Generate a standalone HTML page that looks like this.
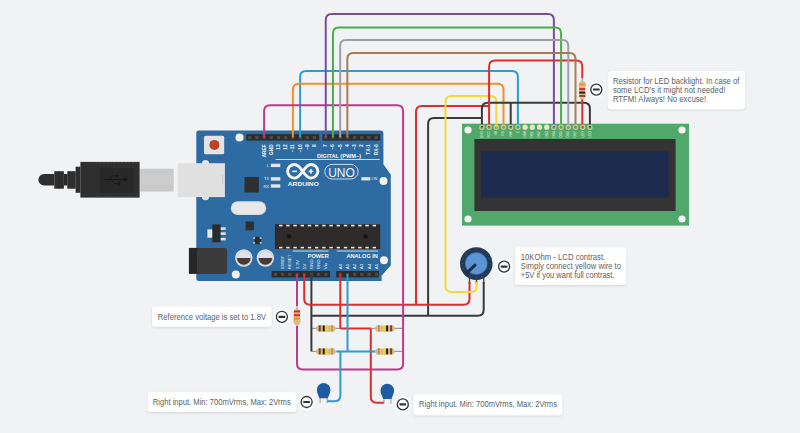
<!DOCTYPE html>
<html><head><meta charset="utf-8"><style>
html,body{margin:0;padding:0;background:#f1f2f4;width:800px;height:433px;overflow:hidden}
svg{display:block;font-family:"Liberation Sans", sans-serif}
</style></head><body>
<svg width="800" height="433" viewBox="0 0 800 433">
<defs><filter id="sh" x="-10%" y="-30%" width="120%" height="160%"><feDropShadow dx="0" dy="1" stdDeviation="1.2" flood-color="#000" flood-opacity="0.12"/></filter></defs>
<rect width="800" height="433" fill="#f1f2f4"/>
<rect x="139.5" y="168.7" width="34.1" height="22.9" fill="#c9c9c9"/>
<rect x="139.5" y="175" width="34.1" height="10" fill="#cdcdcd"/>
<path d="M54.3,174 H44.15 A5.75,5.75 0 0 0 44.15,185.5 H54.3 Z" fill="#2e2e2e"/>
<rect x="54.3" y="171.2" width="9.6" height="17.5" fill="#2e2e2e"/>
<rect x="58.6" y="171.2" width="0.9" height="17.5" fill="#242424"/>
<rect x="63.9" y="174" width="3.5" height="11.5" fill="#2a2a2a"/>
<rect x="67.3" y="171.2" width="8.4" height="17.5" fill="#2e2e2e"/>
<rect x="75.6" y="166.7" width="4.9" height="26.1" fill="#2e2e2e"/>
<rect x="80.4" y="161.9" width="59.2" height="35.7" fill="#2f2f2f"/>
<rect x="99.6" y="168" width="33.7" height="24.8" fill="#282828"/>
<rect x="96.0" y="162.2" width="1.6" height="1.3" fill="#454545"/>
<rect x="96.0" y="196" width="1.6" height="1.3" fill="#454545"/>
<rect x="99.6" y="162.2" width="1.6" height="1.3" fill="#454545"/>
<rect x="99.6" y="196" width="1.6" height="1.3" fill="#454545"/>
<rect x="103.2" y="162.2" width="1.6" height="1.3" fill="#454545"/>
<rect x="103.2" y="196" width="1.6" height="1.3" fill="#454545"/>
<rect x="106.8" y="162.2" width="1.6" height="1.3" fill="#454545"/>
<rect x="106.8" y="196" width="1.6" height="1.3" fill="#454545"/>
<rect x="110.4" y="162.2" width="1.6" height="1.3" fill="#454545"/>
<rect x="110.4" y="196" width="1.6" height="1.3" fill="#454545"/>
<rect x="114.0" y="162.2" width="1.6" height="1.3" fill="#454545"/>
<rect x="114.0" y="196" width="1.6" height="1.3" fill="#454545"/>
<rect x="117.6" y="162.2" width="1.6" height="1.3" fill="#454545"/>
<rect x="117.6" y="196" width="1.6" height="1.3" fill="#454545"/>
<rect x="121.2" y="162.2" width="1.6" height="1.3" fill="#454545"/>
<rect x="121.2" y="196" width="1.6" height="1.3" fill="#454545"/>
<rect x="124.8" y="162.2" width="1.6" height="1.3" fill="#454545"/>
<rect x="124.8" y="196" width="1.6" height="1.3" fill="#454545"/>
<rect x="128.4" y="162.2" width="1.6" height="1.3" fill="#454545"/>
<rect x="128.4" y="196" width="1.6" height="1.3" fill="#454545"/>
<rect x="132.0" y="162.2" width="1.6" height="1.3" fill="#454545"/>
<rect x="132.0" y="196" width="1.6" height="1.3" fill="#454545"/>
<rect x="135.6" y="162.2" width="1.6" height="1.3" fill="#454545"/>
<rect x="135.6" y="196" width="1.6" height="1.3" fill="#454545"/>
<g stroke="#181818" stroke-width="1" fill="none"><line x1="104" y1="179.6" x2="125" y2="179.6"/><polyline points="109.5,179.6 112.5,175.8 116.5,175.8"/><polyline points="111.5,179.6 114.5,183.4 118.5,183.4"/></g>
<path d="M124.5,177.2 L128,179.6 L124.5,182 Z" fill="#181818"/><rect x="116" y="174.6" width="2.4" height="2.4" fill="#181818"/><circle cx="119.2" cy="183.4" r="1.3" fill="#181818"/>
<path d="M198,130.6 H380.5 Q383.4,130.6 383.4,133.5 V164.3 L390.8,174.7 V265.3 L381.6,275.7 V281 H199 Q196.3,281 196.3,278.3 V133.3 Q196.3,130.6 199,130.6 Z" fill="#2d6ba2"/>
<rect x="246.3" y="134.2" width="73" height="6.4" fill="#2c2c2c"/>
<rect x="322.4" y="134.2" width="57.8" height="6.4" fill="#2c2c2c"/>
<rect x="271.6" y="271" width="58.4" height="6.4" fill="#2c2c2c"/>
<rect x="336.2" y="271" width="42.6" height="6.4" fill="#2c2c2c"/>
<rect x="248.1" y="136" width="3.2" height="3" fill="#4a4a4a"/>
<rect x="255.3" y="136" width="3.2" height="3" fill="#4a4a4a"/>
<rect x="262.5" y="136" width="3.2" height="3" fill="#4a4a4a"/>
<rect x="269.7" y="136" width="3.2" height="3" fill="#4a4a4a"/>
<rect x="276.9" y="136" width="3.2" height="3" fill="#4a4a4a"/>
<rect x="284.1" y="136" width="3.2" height="3" fill="#4a4a4a"/>
<rect x="291.3" y="136" width="3.2" height="3" fill="#4a4a4a"/>
<rect x="298.5" y="136" width="3.2" height="3" fill="#4a4a4a"/>
<rect x="305.7" y="136" width="3.2" height="3" fill="#4a4a4a"/>
<rect x="312.9" y="136" width="3.2" height="3" fill="#4a4a4a"/>
<rect x="324.1" y="136" width="3.2" height="3" fill="#4a4a4a"/>
<rect x="331.3" y="136" width="3.2" height="3" fill="#4a4a4a"/>
<rect x="338.5" y="136" width="3.2" height="3" fill="#4a4a4a"/>
<rect x="345.8" y="136" width="3.2" height="3" fill="#4a4a4a"/>
<rect x="352.9" y="136" width="3.2" height="3" fill="#4a4a4a"/>
<rect x="360.1" y="136" width="3.2" height="3" fill="#4a4a4a"/>
<rect x="367.3" y="136" width="3.2" height="3" fill="#4a4a4a"/>
<rect x="374.5" y="136" width="3.2" height="3" fill="#4a4a4a"/>
<rect x="273.8" y="272.8" width="3.2" height="3" fill="#4a4a4a"/>
<rect x="281.0" y="272.8" width="3.2" height="3" fill="#4a4a4a"/>
<rect x="288.2" y="272.8" width="3.2" height="3" fill="#4a4a4a"/>
<rect x="295.4" y="272.8" width="3.2" height="3" fill="#4a4a4a"/>
<rect x="302.6" y="272.8" width="3.2" height="3" fill="#4a4a4a"/>
<rect x="309.8" y="272.8" width="3.2" height="3" fill="#4a4a4a"/>
<rect x="317.0" y="272.8" width="3.2" height="3" fill="#4a4a4a"/>
<rect x="324.2" y="272.8" width="3.2" height="3" fill="#4a4a4a"/>
<rect x="338.7" y="272.8" width="3.2" height="3" fill="#4a4a4a"/>
<rect x="345.9" y="272.8" width="3.2" height="3" fill="#4a4a4a"/>
<rect x="353.1" y="272.8" width="3.2" height="3" fill="#4a4a4a"/>
<rect x="360.3" y="272.8" width="3.2" height="3" fill="#4a4a4a"/>
<rect x="367.5" y="272.8" width="3.2" height="3" fill="#4a4a4a"/>
<rect x="374.7" y="272.8" width="3.2" height="3" fill="#4a4a4a"/>
<circle cx="239.5" cy="137.5" r="4" fill="#f3f3f3"/>
<circle cx="383.5" cy="180.9" r="4" fill="#f3f3f3"/>
<circle cx="235.8" cy="274.6" r="4" fill="#f3f3f3"/>
<circle cx="384.0" cy="260.2" r="4" fill="#f3f3f3"/>
<rect x="204" y="135.7" width="20.2" height="18.5" rx="1.5" fill="#e4e4e4"/>
<circle cx="214.4" cy="144.9" r="5" fill="#bd4128"/>
<circle cx="205.5" cy="163.6" r="3.6" fill="#dde3ea"/><circle cx="205.5" cy="196.7" r="3.6" fill="#dde3ea"/>
<rect x="177.8" y="163.2" width="47.1" height="33.9" fill="#e0e0e0"/>
<rect x="222.3" y="175" width="0.8" height="9" fill="#c4c4c4"/>
<rect x="230.8" y="201.2" width="35.4" height="13.9" rx="6.95" fill="#d8dde2"/><rect x="232" y="202.4" width="33" height="11.5" rx="5.75" fill="#e8e8e8"/>
<rect x="244.5" y="177" width="14.3" height="15.5" fill="#2f2f2f"/>
<rect x="245.6" y="221.5" width="8.3" height="8.8" fill="#2f2f2f"/>
<rect x="212.3" y="224.4" width="8.4" height="17.9" fill="#2b2b2b"/>
<rect x="207.4" y="229.4" width="4.8" height="8.3" fill="#e8e8e8"/>
<rect x="220.7" y="227.3" width="5" height="2.6" fill="#e0e0e0"/>
<rect x="220.7" y="232.3" width="5" height="2.6" fill="#e0e0e0"/>
<rect x="220.7" y="237.8" width="5" height="2.6" fill="#e0e0e0"/>
<rect x="254.5" y="236.8" width="6.5" height="7.4" fill="#2b2b2b"/>
<rect x="253.3" y="237.3" width="1.8" height="1.4" fill="#e0e0e0"/>
<rect x="253.3" y="242.2" width="1.8" height="1.4" fill="#e0e0e0"/>
<rect x="259.7" y="237.3" width="1.8" height="1.4" fill="#e0e0e0"/>
<rect x="259.7" y="242.2" width="1.8" height="1.4" fill="#e0e0e0"/>
<rect x="274.9" y="224.2" width="105.3" height="24.8" fill="#2e2b2a"/>
<rect x="279.0" y="224.8" width="3.4" height="1.6" fill="#e8e8e8"/>
<rect x="279.0" y="246.8" width="3.4" height="1.6" fill="#e8e8e8"/>
<rect x="286.2" y="224.8" width="3.4" height="1.6" fill="#e8e8e8"/>
<rect x="286.2" y="246.8" width="3.4" height="1.6" fill="#e8e8e8"/>
<rect x="293.4" y="224.8" width="3.4" height="1.6" fill="#e8e8e8"/>
<rect x="293.4" y="246.8" width="3.4" height="1.6" fill="#e8e8e8"/>
<rect x="300.6" y="224.8" width="3.4" height="1.6" fill="#e8e8e8"/>
<rect x="300.6" y="246.8" width="3.4" height="1.6" fill="#e8e8e8"/>
<rect x="307.8" y="224.8" width="3.4" height="1.6" fill="#e8e8e8"/>
<rect x="307.8" y="246.8" width="3.4" height="1.6" fill="#e8e8e8"/>
<rect x="315.0" y="224.8" width="3.4" height="1.6" fill="#e8e8e8"/>
<rect x="315.0" y="246.8" width="3.4" height="1.6" fill="#e8e8e8"/>
<rect x="322.2" y="224.8" width="3.4" height="1.6" fill="#e8e8e8"/>
<rect x="322.2" y="246.8" width="3.4" height="1.6" fill="#e8e8e8"/>
<rect x="329.4" y="224.8" width="3.4" height="1.6" fill="#e8e8e8"/>
<rect x="329.4" y="246.8" width="3.4" height="1.6" fill="#e8e8e8"/>
<rect x="336.6" y="224.8" width="3.4" height="1.6" fill="#e8e8e8"/>
<rect x="336.6" y="246.8" width="3.4" height="1.6" fill="#e8e8e8"/>
<rect x="343.8" y="224.8" width="3.4" height="1.6" fill="#e8e8e8"/>
<rect x="343.8" y="246.8" width="3.4" height="1.6" fill="#e8e8e8"/>
<rect x="351.0" y="224.8" width="3.4" height="1.6" fill="#e8e8e8"/>
<rect x="351.0" y="246.8" width="3.4" height="1.6" fill="#e8e8e8"/>
<rect x="358.2" y="224.8" width="3.4" height="1.6" fill="#e8e8e8"/>
<rect x="358.2" y="246.8" width="3.4" height="1.6" fill="#e8e8e8"/>
<rect x="365.4" y="224.8" width="3.4" height="1.6" fill="#e8e8e8"/>
<rect x="365.4" y="246.8" width="3.4" height="1.6" fill="#e8e8e8"/>
<rect x="372.6" y="224.8" width="3.4" height="1.6" fill="#e8e8e8"/>
<rect x="372.6" y="246.8" width="3.4" height="1.6" fill="#e8e8e8"/>
<circle cx="289" cy="236.2" r="2.2" fill="#151515"/><circle cx="365.6" cy="236.2" r="2.2" fill="#151515"/>
<rect x="188.9" y="247.9" width="10" height="26" fill="#262626"/>
<rect x="197" y="247.9" width="30.1" height="26" rx="2" fill="#3a3a3a"/>
<circle cx="243.8" cy="258" r="8.7" fill="#dfe3e8"/>
<path d="M236.6,258 A7.2,7.2 0 0 0 251.0,258 Z" fill="#4a3a33"/>
<circle cx="243.8" cy="258" r="7.2" fill="none" stroke="#c8ccd2" stroke-width="0.8"/>
<circle cx="265.4" cy="258" r="8.7" fill="#dfe3e8"/>
<path d="M258.2,258 A7.2,7.2 0 0 0 272.6,258 Z" fill="#4a3a33"/>
<circle cx="265.4" cy="258" r="7.2" fill="none" stroke="#c8ccd2" stroke-width="0.8"/>
<rect x="270.8" y="163.7" width="9.5" height="3.4" fill="#e6e6e6"/>
<rect x="270.8" y="177.2" width="9.5" height="3.4" fill="#e6e6e6"/>
<rect x="270.8" y="184.3" width="9.5" height="3.4" fill="#e6e6e6"/>
<rect x="361.3" y="177.2" width="9" height="3.2" fill="#e6e6e6"/>
<rect x="275.7" y="159" width="104" height="0.9" fill="#dfe8f0"/>
<rect x="292.8" y="250.6" width="35.7" height="0.9" fill="#dfe8f0"/>
<rect x="336.8" y="250.6" width="41.2" height="0.9" fill="#dfe8f0"/>
<path d="M302.75,171.3 C299,166 296.6,164.5 294.5,164.5 C290.6,164.5 287.6,167.6 287.6,171.3 C287.6,175 290.6,178.1 294.5,178.1 C296.6,178.1 299,176.6 302.75,171.3 C306.5,166 308.9,164.5 311,164.5 C314.9,164.5 317.9,167.6 317.9,171.3 C317.9,175 314.9,178.1 311,178.1 C308.9,178.1 306.5,176.6 302.75,171.3 Z" fill="none" stroke="#f4f6f8" stroke-width="2.9"/>
<rect x="292.2" y="170.6" width="4.8" height="1.5" fill="#f4f6f8"/><rect x="308.6" y="170.6" width="4.8" height="1.5" fill="#f4f6f8"/><rect x="310.25" y="168.95" width="1.5" height="4.8" fill="#f4f6f8"/>
<text x="287.8" y="186.1" font-size="6.2" font-weight="bold" fill="#f4f6f8" textLength="31" lengthAdjust="spacingAndGlyphs">ARDUINO</text>
<rect x="324.8" y="164.4" width="33.4" height="14.6" rx="7.3" fill="none" stroke="#dfe8f0" stroke-width="0.9"/>
<text x="341.5" y="176.8" font-size="12" fill="#f4f6f8" text-anchor="middle" font-weight="normal">UNO</text>
<text x="339" y="157.7" font-size="5.6" font-weight="bold" fill="#f4f6f8" text-anchor="middle">DIGITAL (PWM~)</text>
<text x="318.3" y="257.8" font-size="5.6" font-weight="bold" fill="#f4f6f8" text-anchor="middle">POWER</text>
<text x="362.2" y="257.8" font-size="5.6" font-weight="bold" fill="#f4f6f8" text-anchor="middle">ANALOG IN</text>
<text x="269" y="166.8" font-size="4" fill="#f4f6f8" text-anchor="end">L</text>
<text x="269" y="180.4" font-size="4" fill="#f4f6f8" text-anchor="end">TX</text>
<text x="269" y="187.5" font-size="4" fill="#f4f6f8" text-anchor="end">RX</text>
<text x="371.5" y="180.4" font-size="4" fill="#f4f6f8">ON</text>
<text transform="translate(264.1,144.3) rotate(-90)" font-size="4.8" font-weight="bold" fill="#eef3f8" text-anchor="end" dominant-baseline="central">AREF</text>
<text transform="translate(271.3,144.3) rotate(-90)" font-size="4.8" font-weight="bold" fill="#eef3f8" text-anchor="end" dominant-baseline="central">GND</text>
<text transform="translate(278.5,144.3) rotate(-90)" font-size="4.8" font-weight="bold" fill="#eef3f8" text-anchor="end" dominant-baseline="central">13</text>
<text transform="translate(285.7,144.3) rotate(-90)" font-size="4.8" font-weight="bold" fill="#eef3f8" text-anchor="end" dominant-baseline="central">12</text>
<text transform="translate(292.9,144.3) rotate(-90)" font-size="4.8" font-weight="bold" fill="#eef3f8" text-anchor="end" dominant-baseline="central">~11</text>
<text transform="translate(300.1,144.3) rotate(-90)" font-size="4.8" font-weight="bold" fill="#eef3f8" text-anchor="end" dominant-baseline="central">~10</text>
<text transform="translate(307.3,144.3) rotate(-90)" font-size="4.8" font-weight="bold" fill="#eef3f8" text-anchor="end" dominant-baseline="central">~9</text>
<text transform="translate(314.5,144.3) rotate(-90)" font-size="4.8" font-weight="bold" fill="#eef3f8" text-anchor="end" dominant-baseline="central">8</text>
<text transform="translate(325.8,144.3) rotate(-90)" font-size="4.8" font-weight="bold" fill="#eef3f8" text-anchor="end" dominant-baseline="central">7</text>
<text transform="translate(332.9,144.3) rotate(-90)" font-size="4.8" font-weight="bold" fill="#eef3f8" text-anchor="end" dominant-baseline="central">~6</text>
<text transform="translate(340.1,144.3) rotate(-90)" font-size="4.8" font-weight="bold" fill="#eef3f8" text-anchor="end" dominant-baseline="central">~5</text>
<text transform="translate(347.4,144.3) rotate(-90)" font-size="4.8" font-weight="bold" fill="#eef3f8" text-anchor="end" dominant-baseline="central">4</text>
<text transform="translate(354.6,144.3) rotate(-90)" font-size="4.8" font-weight="bold" fill="#eef3f8" text-anchor="end" dominant-baseline="central">~3</text>
<text transform="translate(361.8,144.3) rotate(-90)" font-size="4.8" font-weight="bold" fill="#eef3f8" text-anchor="end" dominant-baseline="central">2</text>
<text transform="translate(368.9,144.3) rotate(-90)" font-size="4.8" font-weight="bold" fill="#eef3f8" text-anchor="end" dominant-baseline="central">TX-1</text>
<text transform="translate(376.1,144.3) rotate(-90)" font-size="4.8" font-weight="bold" fill="#eef3f8" text-anchor="end" dominant-baseline="central">RX-0</text>
<text transform="translate(282.6,269.2) rotate(-90)" font-size="4.4" fill="#eef3f8" text-anchor="start" dominant-baseline="central">IOREF</text>
<text transform="translate(289.8,269.2) rotate(-90)" font-size="4.4" fill="#eef3f8" text-anchor="start" dominant-baseline="central">RESET</text>
<text transform="translate(297.0,269.2) rotate(-90)" font-size="4.4" fill="#eef3f8" text-anchor="start" dominant-baseline="central">3.3V</text>
<text transform="translate(304.2,269.2) rotate(-90)" font-size="4.4" fill="#eef3f8" text-anchor="start" dominant-baseline="central">5V</text>
<text transform="translate(311.4,269.2) rotate(-90)" font-size="4.4" fill="#eef3f8" text-anchor="start" dominant-baseline="central">GND</text>
<text transform="translate(318.6,269.2) rotate(-90)" font-size="4.4" fill="#eef3f8" text-anchor="start" dominant-baseline="central">GND</text>
<text transform="translate(325.8,269.2) rotate(-90)" font-size="4.4" fill="#eef3f8" text-anchor="start" dominant-baseline="central">Vin</text>
<text transform="translate(340.3,269.2) rotate(-90)" font-size="4.4" fill="#eef3f8" text-anchor="start" dominant-baseline="central">A0</text>
<text transform="translate(347.5,269.2) rotate(-90)" font-size="4.4" fill="#eef3f8" text-anchor="start" dominant-baseline="central">A1</text>
<text transform="translate(354.7,269.2) rotate(-90)" font-size="4.4" fill="#eef3f8" text-anchor="start" dominant-baseline="central">A2</text>
<text transform="translate(361.9,269.2) rotate(-90)" font-size="4.4" fill="#eef3f8" text-anchor="start" dominant-baseline="central">A3</text>
<text transform="translate(369.1,269.2) rotate(-90)" font-size="4.4" fill="#eef3f8" text-anchor="start" dominant-baseline="central">A4</text>
<text transform="translate(376.3,269.2) rotate(-90)" font-size="4.4" fill="#eef3f8" text-anchor="start" dominant-baseline="central">A5</text>
<rect x="462" y="123.7" width="227" height="101.9" fill="#50a86a"/>
<circle cx="468.0" cy="130.0" r="3.6" fill="#f3f3f3"/>
<circle cx="682.0" cy="130.0" r="3.6" fill="#f3f3f3"/>
<circle cx="468.0" cy="219.0" r="3.6" fill="#f3f3f3"/>
<circle cx="682.0" cy="219.0" r="3.6" fill="#f3f3f3"/>
<rect x="474.4" y="139" width="201.2" height="72" fill="#333333"/>
<rect x="481" y="151.5" width="187.8" height="46" fill="#1c2b4e"/>
<text transform="translate(481.9,131.2) rotate(-90)" font-size="3.2" fill="#e8f2ea" text-anchor="end" dominant-baseline="middle">GND</text>
<text transform="translate(489.1,131.2) rotate(-90)" font-size="3.2" fill="#e8f2ea" text-anchor="end" dominant-baseline="middle">VCC</text>
<text transform="translate(496.3,131.2) rotate(-90)" font-size="3.2" fill="#e8f2ea" text-anchor="end" dominant-baseline="middle">V0</text>
<text transform="translate(503.5,131.2) rotate(-90)" font-size="3.2" fill="#e8f2ea" text-anchor="end" dominant-baseline="middle">RS</text>
<text transform="translate(510.7,131.2) rotate(-90)" font-size="3.2" fill="#e8f2ea" text-anchor="end" dominant-baseline="middle">RW</text>
<text transform="translate(517.9,131.2) rotate(-90)" font-size="3.2" fill="#e8f2ea" text-anchor="end" dominant-baseline="middle">E</text>
<circle cx="525.1" cy="127.2" r="2.6" fill="#ebe6c4"/>
<text transform="translate(525.1,131.2) rotate(-90)" font-size="3.2" fill="#e8f2ea" text-anchor="end" dominant-baseline="middle">DB0</text>
<circle cx="532.3" cy="127.2" r="2.6" fill="#ebe6c4"/>
<text transform="translate(532.3,131.2) rotate(-90)" font-size="3.2" fill="#e8f2ea" text-anchor="end" dominant-baseline="middle">DB1</text>
<circle cx="539.5" cy="127.2" r="2.6" fill="#ebe6c4"/>
<text transform="translate(539.5,131.2) rotate(-90)" font-size="3.2" fill="#e8f2ea" text-anchor="end" dominant-baseline="middle">DB2</text>
<circle cx="546.7" cy="127.2" r="2.6" fill="#ebe6c4"/>
<text transform="translate(546.7,131.2) rotate(-90)" font-size="3.2" fill="#e8f2ea" text-anchor="end" dominant-baseline="middle">DB3</text>
<text transform="translate(553.9,131.2) rotate(-90)" font-size="3.2" fill="#e8f2ea" text-anchor="end" dominant-baseline="middle">DB4</text>
<text transform="translate(561.1,131.2) rotate(-90)" font-size="3.2" fill="#e8f2ea" text-anchor="end" dominant-baseline="middle">DB5</text>
<text transform="translate(568.3,131.2) rotate(-90)" font-size="3.2" fill="#e8f2ea" text-anchor="end" dominant-baseline="middle">DB6</text>
<text transform="translate(575.5,131.2) rotate(-90)" font-size="3.2" fill="#e8f2ea" text-anchor="end" dominant-baseline="middle">DB7</text>
<text transform="translate(582.7,131.2) rotate(-90)" font-size="3.2" fill="#e8f2ea" text-anchor="end" dominant-baseline="middle">LED</text>
<text transform="translate(589.9,131.2) rotate(-90)" font-size="3.2" fill="#e8f2ea" text-anchor="end" dominant-baseline="middle">LED</text>
<rect x="468.7" y="275" width="1.6" height="9" fill="#555"/>
<rect x="475.7" y="275" width="1.6" height="9" fill="#555"/>
<rect x="482.9" y="275" width="1.6" height="9" fill="#555"/>
<circle cx="476.3" cy="263.6" r="16.3" fill="#223b55"/>
<circle cx="490.30" cy="263.60" r="0.45" fill="#6d86a0"/>
<circle cx="489.23" cy="268.96" r="0.45" fill="#6d86a0"/>
<circle cx="486.20" cy="273.50" r="0.45" fill="#6d86a0"/>
<circle cx="481.66" cy="276.53" r="0.45" fill="#6d86a0"/>
<circle cx="476.30" cy="277.60" r="0.45" fill="#6d86a0"/>
<circle cx="470.94" cy="276.53" r="0.45" fill="#6d86a0"/>
<circle cx="466.40" cy="273.50" r="0.45" fill="#6d86a0"/>
<circle cx="463.37" cy="268.96" r="0.45" fill="#6d86a0"/>
<circle cx="462.30" cy="263.60" r="0.45" fill="#6d86a0"/>
<circle cx="463.37" cy="258.24" r="0.45" fill="#6d86a0"/>
<circle cx="466.40" cy="253.70" r="0.45" fill="#6d86a0"/>
<circle cx="470.94" cy="250.67" r="0.45" fill="#6d86a0"/>
<circle cx="476.30" cy="249.60" r="0.45" fill="#6d86a0"/>
<circle cx="481.66" cy="250.67" r="0.45" fill="#6d86a0"/>
<circle cx="486.20" cy="253.70" r="0.45" fill="#6d86a0"/>
<circle cx="489.23" cy="258.24" r="0.45" fill="#6d86a0"/>
<circle cx="476.3" cy="263.6" r="11.3" fill="#3f6fa6"/>
<circle cx="476.3" cy="263.6" r="10.6" fill="#5c95d6"/>
<line x1="475" y1="265.2" x2="467" y2="272.8" stroke="#1c2f45" stroke-width="3" stroke-linecap="round"/>
<rect x="319.4" y="397.1" width="1.6" height="6" fill="#bdbdbd"/>
<rect x="326.4" y="397.1" width="1.6" height="6" fill="#bdbdbd"/>
<path d="M316.85,389.90 A6.80,6.80 0 0 1 330.45,389.90 C330.45,393.40 328.15,396.40 327.85,398.30 H319.45 C319.15,396.40 316.85,393.40 316.85,389.90 Z" fill="#1f5ba3"/>
<rect x="383.1" y="397.8" width="1.6" height="6" fill="#bdbdbd"/>
<rect x="390.1" y="397.8" width="1.6" height="6" fill="#bdbdbd"/>
<path d="M380.50,390.60 A6.80,6.80 0 0 1 394.10,390.60 C394.10,394.10 391.80,397.10 391.50,399.00 H383.10 C382.80,397.10 380.50,394.10 380.50,390.60 Z" fill="#1f5ba3"/>
<line x1="311.4" y1="328.4" x2="317.0" y2="328.4" stroke="#9a9a9a" stroke-width="1.2"/>
<line x1="336.0" y1="328.4" x2="340.4" y2="328.4" stroke="#9a9a9a" stroke-width="1.2"/>
<line x1="370.8" y1="328.4" x2="375.5" y2="328.4" stroke="#9a9a9a" stroke-width="1.2"/>
<line x1="394.0" y1="328.4" x2="403.0" y2="328.4" stroke="#9a9a9a" stroke-width="1.2"/>
<line x1="311.4" y1="351.4" x2="317.0" y2="351.4" stroke="#9a9a9a" stroke-width="1.2"/>
<line x1="336.0" y1="351.4" x2="340.4" y2="351.4" stroke="#9a9a9a" stroke-width="1.2"/>
<line x1="370.8" y1="351.4" x2="375.5" y2="351.4" stroke="#9a9a9a" stroke-width="1.2"/>
<line x1="394.0" y1="351.4" x2="403.0" y2="351.4" stroke="#9a9a9a" stroke-width="1.2"/>
<line x1="582.3" y1="76.0" x2="582.3" y2="81.0" stroke="#9a9a9a" stroke-width="1.2"/>
<line x1="297.0" y1="305.0" x2="297.0" y2="310.0" stroke="#9a9a9a" stroke-width="1.2"/>
<line x1="297.0" y1="324.0" x2="297.0" y2="327.0" stroke="#9a9a9a" stroke-width="1.2"/>
<path d="M300.10,137.30 L300.10,77.00 Q300.10,71.00 306.10,71.00 L511.90,71.00 Q517.90,71.00 517.90,77.00 L517.90,127.20" stroke="#2a9dd2" stroke-width="2.0" fill="none"/>
<path d="M292.90,137.30 L292.90,89.80 Q292.90,83.80 298.90,83.80 L497.50,83.80 Q503.50,83.80 503.50,89.80 L503.50,127.20" stroke="#ef922c" stroke-width="2.0" fill="none"/>
<path d="M416.00,304.70 L416.00,111.90 Q416.00,105.90 422.00,105.90 L489.10,105.90" stroke="#dc2d30" stroke-width="2.0" fill="none"/>
<path d="M481.90,118.10 L434.10,118.10 Q428.10,118.10 428.10,124.10 L428.10,315.80" stroke="#3a3a3a" stroke-width="2.0" fill="none"/>
<path d="M311.40,274.20 L311.40,351.40" stroke="#3a3a3a" stroke-width="2.0" fill="none"/>
<path d="M311.40,315.80 L477.70,315.80 Q483.70,315.80 483.70,309.80 L483.70,282.00" stroke="#3a3a3a" stroke-width="2.0" fill="none"/>
<path d="M304.20,274.20 L304.20,298.70 Q304.20,304.70 310.20,304.70 L463.50,304.70 Q469.50,304.70 469.50,298.70 L469.50,282.00" stroke="#dc2d30" stroke-width="2.0" fill="none"/>
<path d="M264.10,137.30 L264.10,111.20 Q264.10,105.20 270.10,105.20 L397.10,105.20 Q403.10,105.20 403.10,111.20 L403.10,363.60 Q403.10,369.60 397.10,369.60 L303.00,369.60 Q297.00,369.60 297.00,363.60 L297.00,326.00" stroke="#bb3a8a" stroke-width="2.0" fill="none"/>
<path d="M297.00,274.20 L297.00,306.00" stroke="#bb3a8a" stroke-width="2.0" fill="none"/>
<path d="M496.30,127.20 L496.30,102.00 Q496.30,96.00 490.30,96.00 L451.50,96.00 Q445.50,96.00 445.50,102.00 L445.50,285.90 Q445.50,291.90 451.50,291.90 L471.55,291.90 Q476.50,291.90 476.50,286.95 L476.50,282.00" stroke="#f4d83e" stroke-width="2.0" fill="none"/>
<path d="M481.90,127.20 L481.90,108.80 Q481.90,102.80 487.90,102.80 L583.90,102.80 Q589.90,102.80 589.90,108.80 L589.90,127.20" stroke="#3a3a3a" stroke-width="2.0" fill="none"/>
<path d="M510.70,127.20 L510.70,102.80" stroke="#3a3a3a" stroke-width="2.0" fill="none"/>
<path d="M489.10,127.20 L489.10,66.50 Q489.10,60.50 495.10,60.50 L576.30,60.50 Q582.30,60.50 582.30,66.50 L582.30,78.00" stroke="#dc2d30" stroke-width="2.0" fill="none"/>
<path d="M582.30,99.00 L582.30,127.20" stroke="#dc2d30" stroke-width="2.0" fill="none"/>
<path d="M325.75,137.30 L325.75,20.00 Q325.75,14.00 331.75,14.00 L547.90,14.00 Q553.90,14.00 553.90,20.00 L553.90,127.20" stroke="#764f9c" stroke-width="2.0" fill="none"/>
<path d="M332.95,137.30 L332.95,33.50 Q332.95,27.50 338.95,27.50 L555.10,27.50 Q561.10,27.50 561.10,33.50 L561.10,127.20" stroke="#48ae4a" stroke-width="2.0" fill="none"/>
<path d="M340.15,137.30 L340.15,46.00 Q340.15,40.00 346.15,40.00 L562.30,40.00 Q568.30,40.00 568.30,46.00 L568.30,127.20" stroke="#9da0a4" stroke-width="2.0" fill="none"/>
<path d="M347.35,137.30 L347.35,59.00 Q347.35,53.00 353.35,53.00 L569.50,53.00 Q575.50,53.00 575.50,59.00 L575.50,127.20" stroke="#a87b56" stroke-width="2.0" fill="none"/>
<path d="M340.30,274.20 L340.30,327.60 Q340.30,328.40 341.10,328.40 L370.80,328.40" stroke="#dc2d30" stroke-width="2.0" fill="none"/>
<path d="M370.80,328.40 L370.80,396.70 Q370.80,402.70 376.80,402.70 L383.70,402.70" stroke="#dc2d30" stroke-width="2.0" fill="none"/>
<path d="M347.50,274.20 L347.50,351.40" stroke="#2a9dd2" stroke-width="2.0" fill="none"/>
<path d="M336.50,351.40 L375.00,351.40" stroke="#2a9dd2" stroke-width="2.0" fill="none"/>
<path d="M340.40,351.40 L340.40,395.30 Q340.40,401.30 334.40,401.30 L327.30,401.30" stroke="#2a9dd2" stroke-width="2.0" fill="none"/>
<circle cx="481.9" cy="127.2" r="2.1" fill="none" stroke="#d6c78f" stroke-width="1.2"/>
<circle cx="489.1" cy="127.2" r="2.1" fill="none" stroke="#d6c78f" stroke-width="1.2"/>
<circle cx="496.3" cy="127.2" r="2.1" fill="none" stroke="#d6c78f" stroke-width="1.2"/>
<circle cx="503.5" cy="127.2" r="2.1" fill="none" stroke="#d6c78f" stroke-width="1.2"/>
<circle cx="510.7" cy="127.2" r="2.1" fill="none" stroke="#d6c78f" stroke-width="1.2"/>
<circle cx="517.9" cy="127.2" r="2.1" fill="none" stroke="#d6c78f" stroke-width="1.2"/>
<circle cx="553.9" cy="127.2" r="2.1" fill="none" stroke="#d6c78f" stroke-width="1.2"/>
<circle cx="561.1" cy="127.2" r="2.1" fill="none" stroke="#d6c78f" stroke-width="1.2"/>
<circle cx="568.3" cy="127.2" r="2.1" fill="none" stroke="#d6c78f" stroke-width="1.2"/>
<circle cx="575.5" cy="127.2" r="2.1" fill="none" stroke="#d6c78f" stroke-width="1.2"/>
<circle cx="582.7" cy="127.2" r="2.1" fill="none" stroke="#d6c78f" stroke-width="1.2"/>
<circle cx="589.9" cy="127.2" r="2.1" fill="none" stroke="#d6c78f" stroke-width="1.2"/><path d="M315.70,328.40 C317.20,324.95 318.70,324.95 320.70,324.95 C322.20,324.95 322.20,325.75 323.70,325.75 L328.20,325.75 C329.70,325.75 329.70,324.95 331.20,324.95 C333.20,324.95 334.70,324.95 336.20,328.40 C334.70,331.85 333.20,331.85 331.20,331.85 L320.70,331.85 C318.70,331.85 317.20,331.85 315.70,328.40 Z" fill="#dcbb82"/>
<rect x="318.7" y="325.4" width="2.1" height="5.9" fill="#7a4a24"/>
<rect x="322.7" y="325.4" width="2.0" height="5.9" fill="#1e1e1e"/>
<rect x="325.9" y="325.4" width="2.2" height="5.9" fill="#f2d21e"/>
<rect x="331.2" y="325.4" width="1.6" height="5.9" fill="#b8924e"/>
<path d="M374.60,328.40 C376.10,324.95 377.60,324.95 379.60,324.95 C381.10,324.95 381.10,325.75 382.60,325.75 L387.10,325.75 C388.60,325.75 388.60,324.95 390.10,324.95 C392.10,324.95 393.60,324.95 395.10,328.40 C393.60,331.85 392.10,331.85 390.10,331.85 L379.60,331.85 C377.60,331.85 376.10,331.85 374.60,328.40 Z" fill="#dcbb82"/>
<rect x="378.0" y="325.4" width="1.6" height="5.9" fill="#b8924e"/>
<rect x="382.7" y="325.4" width="2.2" height="5.9" fill="#f2d21e"/>
<rect x="386.1" y="325.4" width="2.0" height="5.9" fill="#1e1e1e"/>
<rect x="390.0" y="325.4" width="2.1" height="5.9" fill="#7a4a24"/>
<path d="M315.70,351.40 C317.20,347.95 318.70,347.95 320.70,347.95 C322.20,347.95 322.20,348.75 323.70,348.75 L328.20,348.75 C329.70,348.75 329.70,347.95 331.20,347.95 C333.20,347.95 334.70,347.95 336.20,351.40 C334.70,354.85 333.20,354.85 331.20,354.85 L320.70,354.85 C318.70,354.85 317.20,354.85 315.70,351.40 Z" fill="#dcbb82"/>
<rect x="318.7" y="348.4" width="2.1" height="5.9" fill="#7a4a24"/>
<rect x="322.7" y="348.4" width="2.0" height="5.9" fill="#1e1e1e"/>
<rect x="325.9" y="348.4" width="2.2" height="5.9" fill="#f2d21e"/>
<rect x="331.2" y="348.4" width="1.6" height="5.9" fill="#b8924e"/>
<path d="M374.60,351.40 C376.10,347.95 377.60,347.95 379.60,347.95 C381.10,347.95 381.10,348.75 382.60,348.75 L387.10,348.75 C388.60,348.75 388.60,347.95 390.10,347.95 C392.10,347.95 393.60,347.95 395.10,351.40 C393.60,354.85 392.10,354.85 390.10,354.85 L379.60,354.85 C377.60,354.85 376.10,354.85 374.60,351.40 Z" fill="#dcbb82"/>
<rect x="378.0" y="348.4" width="1.6" height="5.9" fill="#b8924e"/>
<rect x="382.7" y="348.4" width="2.2" height="5.9" fill="#f2d21e"/>
<rect x="386.1" y="348.4" width="2.0" height="5.9" fill="#1e1e1e"/>
<rect x="390.0" y="348.4" width="2.1" height="5.9" fill="#7a4a24"/>
<g transform="translate(582.30,80.60) rotate(90)"><path d="M0.00,0.00 C1.50,-3.50 3.00,-3.50 5.00,-3.50 C6.50,-3.50 6.50,-2.70 8.00,-2.70 L11.00,-2.70 C12.50,-2.70 12.50,-3.50 14.00,-3.50 C16.00,-3.50 17.50,-3.50 19.00,0.00 C17.50,3.50 16.00,3.50 14.00,3.50 L5.00,3.50 C3.00,3.50 1.50,3.50 0.00,0.00 Z" fill="#dcbb82"/>
<rect x="3.0" y="-3.0" width="1.6" height="6.0" fill="#c99a55"/>
<rect x="7.5" y="-3.0" width="2.0" height="6.0" fill="#e2292f"/>
<rect x="11.0" y="-3.0" width="2.0" height="6.0" fill="#1e1e1e"/>
<rect x="14.5" y="-3.0" width="1.8" height="6.0" fill="#7a4a24"/></g>
<g transform="translate(297.00,308.60) rotate(90)"><path d="M0.00,0.00 C1.50,-3.50 3.00,-3.50 5.00,-3.50 C6.50,-3.50 6.50,-2.70 8.00,-2.70 L9.20,-2.70 C10.70,-2.70 10.70,-3.50 12.20,-3.50 C14.20,-3.50 15.70,-3.50 17.20,0.00 C15.70,3.50 14.20,3.50 12.20,3.50 L5.00,3.50 C3.00,3.50 1.50,3.50 0.00,0.00 Z" fill="#dcbb82"/>
<rect x="1.8" y="-3.0" width="2.0" height="6.0" fill="#e2292f"/>
<rect x="5.6" y="-3.0" width="2.0" height="6.0" fill="#e2292f"/>
<rect x="9.0" y="-3.0" width="2.0" height="6.0" fill="#f28c1e"/></g>
<g filter="url(#sh)"><rect x="607.8" y="71.0" width="137.4" height="38.2" rx="3.5" fill="#fff"/></g><text x="612.9" y="83.7" font-size="8.4" fill="#5a5f66" textLength="126.5" lengthAdjust="spacingAndGlyphs">Resistor for LED backlight. In case of</text><text x="612.9" y="92.9" font-size="8.4" fill="#5a5f66" textLength="112.5" lengthAdjust="spacingAndGlyphs">some LCD’s it might not needed!</text><text x="612.9" y="102.1" font-size="8.4" fill="#5a5f66" textLength="93.2" lengthAdjust="spacingAndGlyphs">RTFM! Always! No excuse!</text>
<g filter="url(#sh)"><rect x="515.2" y="247.2" width="111.0" height="37.8" rx="3.5" fill="#fff"/></g><text x="520.8" y="260.0" font-size="8.4" fill="#5a5f66" textLength="84.4" lengthAdjust="spacingAndGlyphs">10KOhm - LCD contrast.</text><text x="520.8" y="269.2" font-size="8.4" fill="#5a5f66" textLength="100.2" lengthAdjust="spacingAndGlyphs">Simply connect yellow wire to</text><text x="520.8" y="278.4" font-size="8.4" fill="#5a5f66" textLength="93.7" lengthAdjust="spacingAndGlyphs">+5V if you want full contrast.</text>
<g filter="url(#sh)"><rect x="152.1" y="306.3" width="119.5" height="20.4" rx="3.5" fill="#fff"/></g><text x="157.8" y="319.7" font-size="8.4" fill="#5a5f66" textLength="108.2" lengthAdjust="spacingAndGlyphs">Reference voltage is set to 1.8V</text>
<g filter="url(#sh)"><rect x="147.9" y="392.2" width="148.5" height="19.8" rx="3.5" fill="#fff"/></g><text x="152.8" y="404.9" font-size="8.4" fill="#5a5f66" textLength="137.9" lengthAdjust="spacingAndGlyphs">Right input. Min: 700mVrms, Max: 2Vrms</text>
<g filter="url(#sh)"><rect x="413.3" y="394.3" width="148.9" height="20.9" rx="3.5" fill="#fff"/></g><text x="419.0" y="407.4" font-size="8.4" fill="#5a5f66" textLength="138.0" lengthAdjust="spacingAndGlyphs">Right input. Min: 700mVrms, Max: 2Vrms</text>
<circle cx="596.3" cy="89.6" r="9" fill="#ffffff" fill-opacity="0.5"/><circle cx="596.3" cy="89.6" r="5.5" fill="#fff" stroke="#333" stroke-width="1.3"/><rect x="592.9" y="88.5" width="6.8" height="2.1" rx="0.6" fill="#333"/>
<circle cx="504.1" cy="266.6" r="9" fill="#ffffff" fill-opacity="0.5"/><circle cx="504.1" cy="266.6" r="5.5" fill="#fff" stroke="#333" stroke-width="1.3"/><rect x="500.7" y="265.6" width="6.8" height="2.1" rx="0.6" fill="#333"/>
<circle cx="281.9" cy="316.8" r="9" fill="#ffffff" fill-opacity="0.5"/><circle cx="281.9" cy="316.8" r="5.5" fill="#fff" stroke="#333" stroke-width="1.3"/><rect x="278.5" y="315.8" width="6.8" height="2.1" rx="0.6" fill="#333"/>
<circle cx="306.6" cy="402.0" r="9" fill="#ffffff" fill-opacity="0.5"/><circle cx="306.6" cy="402.0" r="5.5" fill="#fff" stroke="#333" stroke-width="1.3"/><rect x="303.2" y="400.9" width="6.8" height="2.1" rx="0.6" fill="#333"/>
<circle cx="402.8" cy="404.4" r="9" fill="#ffffff" fill-opacity="0.5"/><circle cx="402.8" cy="404.4" r="5.5" fill="#fff" stroke="#333" stroke-width="1.3"/><rect x="399.4" y="403.3" width="6.8" height="2.1" rx="0.6" fill="#333"/>

</svg>
</body></html>
